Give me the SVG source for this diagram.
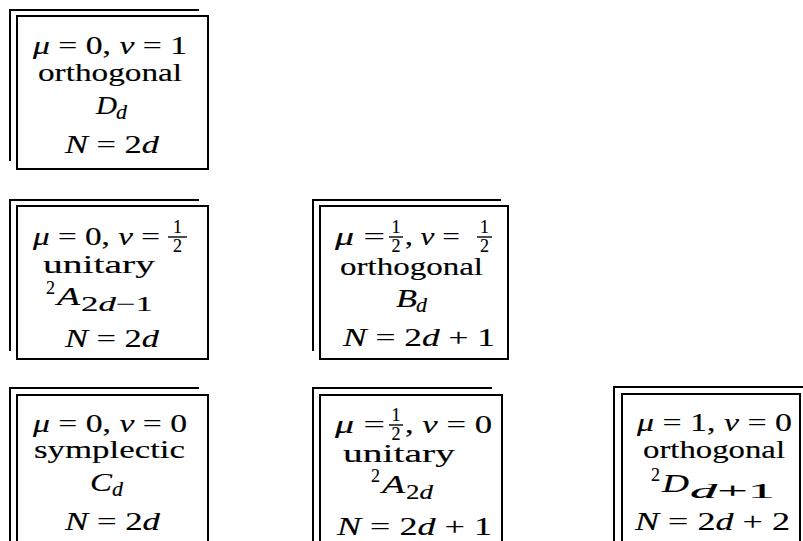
<svg xmlns="http://www.w3.org/2000/svg" width="803" height="541" viewBox="0 0 803 541">
<style>
.t{font-family:"Liberation Serif","Times New Roman",serif;font-size:25px;fill:#000;stroke:#000;stroke-width:0.15px}
.i{font-style:italic}
.s{font-size:21px}
.p{font-size:19px}
.f{font-size:18px}
.box{fill:none;stroke:#000;stroke-width:2}
.sh{fill:none;stroke:#000;stroke-width:2;stroke-linejoin:miter}
.bar{stroke:#000;stroke-width:1.4}
</style>
<rect width="803" height="541" fill="#fff"/>
<g id="connectors"></g>

<g id="n1">
<path class="sh" d="M10 161V10H199"/>
<rect class="box" x="17" y="16" width="191" height="153"/>
<text class="t" x="33" y="54" textLength="154" lengthAdjust="spacingAndGlyphs"><tspan class="i">μ</tspan> = 0, <tspan class="i">ν</tspan> = 1</text>
<text class="t" x="38" y="81" textLength="144" lengthAdjust="spacingAndGlyphs">orthogonal</text>
<text class="t i" x="96" y="114" textLength="21" lengthAdjust="spacingAndGlyphs">D</text>
<text class="t i s" x="116" y="119" textLength="11" lengthAdjust="spacingAndGlyphs">d</text>
<text class="t" x="65" y="153" textLength="94" lengthAdjust="spacingAndGlyphs"><tspan class="i">N</tspan> = 2<tspan class="i">d</tspan></text>
</g>

<g id="n2">
<path class="sh" d="M10 351V200H199"/>
<rect class="box" x="17" y="206" width="191" height="153"/>
<text class="t" x="33" y="245" textLength="127" lengthAdjust="spacingAndGlyphs"><tspan class="i">μ</tspan> = 0, <tspan class="i">ν</tspan> =</text>
<text class="t f" text-anchor="middle"><tspan x="177.5" y="233">1</tspan><tspan x="177.5" y="252">2</tspan></text>
<line class="bar" x1="168" y1="237" x2="187" y2="237"/>
<text class="t" x="43" y="273" textLength="112" lengthAdjust="spacingAndGlyphs">unitary</text>
<text class="t p" x="46" y="294" textLength="9" lengthAdjust="spacingAndGlyphs">2</text>
<text class="t i" x="57" y="305" textLength="23" lengthAdjust="spacingAndGlyphs">A</text>
<text class="t s" x="81" y="311" textLength="72" lengthAdjust="spacingAndGlyphs">2<tspan class="i">d</tspan>−1</text>
<text class="t" x="65" y="347" textLength="94" lengthAdjust="spacingAndGlyphs"><tspan class="i">N</tspan> = 2<tspan class="i">d</tspan></text>
</g>

<g id="n3">
<path class="sh" d="M313 351V200H501"/>
<rect class="box" x="320" y="206" width="188" height="153"/>
<text class="t" x="335" y="245" textLength="50" lengthAdjust="spacingAndGlyphs"><tspan class="i">μ</tspan> =</text>
<text class="t f" text-anchor="middle"><tspan x="396" y="233">1</tspan><tspan x="396" y="252">2</tspan></text>
<line class="bar" x1="389" y1="237" x2="403" y2="237"/>
<text class="t" x="405" y="245" textLength="55" lengthAdjust="spacingAndGlyphs">, <tspan class="i">ν</tspan> =</text>
<text class="t f" text-anchor="middle"><tspan x="484.5" y="233">1</tspan><tspan x="484.5" y="252">2</tspan></text>
<line class="bar" x1="477" y1="237" x2="492" y2="237"/>
<text class="t" x="340" y="275" textLength="143" lengthAdjust="spacingAndGlyphs">orthogonal</text>
<text class="t i" x="396" y="307" textLength="21" lengthAdjust="spacingAndGlyphs">B</text>
<text class="t i s" x="416" y="312" textLength="11" lengthAdjust="spacingAndGlyphs">d</text>
<text class="t" x="343" y="346" textLength="152" lengthAdjust="spacingAndGlyphs"><tspan class="i">N</tspan> = 2<tspan class="i">d</tspan> + 1</text>
</g>

<g id="n4">
<path class="sh" d="M10 545V388H199"/>
<rect class="box" x="17" y="395" width="191" height="170"/>
<text class="t" x="33" y="432" textLength="154" lengthAdjust="spacingAndGlyphs"><tspan class="i">μ</tspan> = 0, <tspan class="i">ν</tspan> = 0</text>
<text class="t" x="34" y="458" textLength="151" lengthAdjust="spacingAndGlyphs">symplectic</text>
<text class="t i" x="90" y="491" textLength="22" lengthAdjust="spacingAndGlyphs">C</text>
<text class="t i s" x="112" y="496" textLength="11" lengthAdjust="spacingAndGlyphs">d</text>
<text class="t" x="65" y="530" textLength="95" lengthAdjust="spacingAndGlyphs"><tspan class="i">N</tspan> = 2<tspan class="i">d</tspan></text>
</g>

<g id="n5">
<path class="sh" d="M313 545V388H492"/>
<rect class="box" x="320" y="395" width="182" height="170"/>
<text class="t" x="335" y="433" textLength="50" lengthAdjust="spacingAndGlyphs"><tspan class="i">μ</tspan> =</text>
<text class="t f" text-anchor="middle"><tspan x="396" y="421">1</tspan><tspan x="396" y="440">2</tspan></text>
<line class="bar" x1="389" y1="425" x2="403" y2="425"/>
<text class="t" x="405" y="433" textLength="87" lengthAdjust="spacingAndGlyphs">, <tspan class="i">ν</tspan> = 0</text>
<text class="t" x="343" y="462" textLength="112" lengthAdjust="spacingAndGlyphs">unitary</text>
<text class="t p" x="371" y="482" textLength="9" lengthAdjust="spacingAndGlyphs">2</text>
<text class="t i" x="382" y="493" textLength="23" lengthAdjust="spacingAndGlyphs">A</text>
<text class="t s" x="406" y="499" textLength="27" lengthAdjust="spacingAndGlyphs">2<tspan class="i">d</tspan></text>
<text class="t" x="337" y="535" textLength="155" lengthAdjust="spacingAndGlyphs"><tspan class="i">N</tspan> = 2<tspan class="i">d</tspan> + 1</text>
</g>

<g id="n6">
<path class="sh" d="M614 545V387H803"/>
<rect class="box" x="622" y="394" width="178" height="170"/>
<text class="t" x="637" y="431" textLength="155" lengthAdjust="spacingAndGlyphs"><tspan class="i">μ</tspan> = 1, <tspan class="i">ν</tspan> = 0</text>
<text class="t" x="643" y="458" textLength="142" lengthAdjust="spacingAndGlyphs">orthogonal</text>
<text class="t p" x="651" y="481" textLength="9" lengthAdjust="spacingAndGlyphs">2</text>
<text class="t i" x="662" y="492" textLength="27" lengthAdjust="spacingAndGlyphs">D</text>
<text class="t s" x="690" y="498" textLength="85" lengthAdjust="spacingAndGlyphs"><tspan class="i">d</tspan>+1</text>
<text class="t" x="635" y="530" textLength="155" lengthAdjust="spacingAndGlyphs"><tspan class="i">N</tspan> = 2<tspan class="i">d</tspan> + 2</text>
</g>
</svg>
